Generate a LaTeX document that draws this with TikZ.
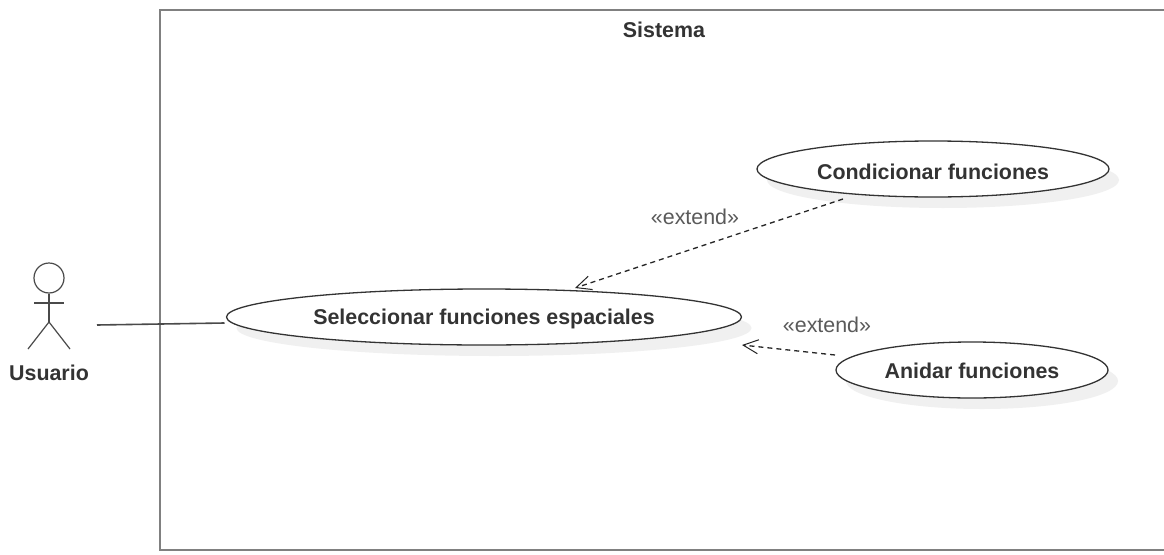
\documentclass[tikz,border=0pt]{standalone}
\usepackage{fontspec}
\setmainfont{Liberation Sans}
\usetikzlibrary{shapes.geometric,arrows.meta,shadows}
\definecolor{boxgray}{HTML}{808080}
\definecolor{linegray}{HTML}{333333}
\definecolor{stickgray}{HTML}{4A4A4A}
\definecolor{textgray}{HTML}{333333}
\definecolor{lbl}{HTML}{5A5A5A}
\tikzset{
  usecase/.style={ellipse,draw=linegray,line width=1.3pt,fill=white,inner sep=0pt,
    drop shadow={shadow xshift=10pt,shadow yshift=-11pt,fill=black!6,opacity=1}},
  uclabel/.style={font=\bfseries\fontsize{21.4}{24}\selectfont,text=textgray,inner sep=0pt},
  sysbox/.style={draw=boxgray,line width=2pt},
  stick/.style={draw=stickgray,line width=1.2pt},
  assoc/.style={draw=stickgray,line width=1.6pt},
  ext/.style={draw=black!85,line width=1.3pt,dash pattern=on 5pt off 4pt,-{Straight Barb[length=15pt,width=14pt,line width=1pt]}},
  lab/.style={font=\fontsize{21.4}{24}\selectfont,text=lbl,inner sep=0pt},
  titlelab/.style={font=\bfseries\fontsize{21.4}{24}\selectfont,text=textgray,inner sep=0pt}
}
\begin{document}
\begin{tikzpicture}[x=1pt,y=-1pt]
\useasboundingbox (0,0) rectangle (1164,554);
\fill[white] (0,0) rectangle (1164,554);
% system boundary, open at the right-hand edge of the picture
\draw[sysbox] (1164,10) -- (160,10) -- (160,550) -- (1164,550);
\node[titlelab] (sys) at (664,30) {Sistema};
% use cases
\node[usecase,minimum width=515pt,minimum height=56pt] (sel) at (484,317) {};
\node[uclabel] (sellab) at (484,319) {Seleccionar funciones espaciales};
\node[usecase,minimum width=352pt,minimum height=56pt] (cond) at (933,169) {};
\node[uclabel] (condlab) at (933,172) {Condicionar funciones};
\node[usecase,minimum width=272pt,minimum height=56pt] (ani) at (972,370) {};
\node[uclabel] (anilab) at (972,371) {Anidar funciones};
% actor
\node[circle,stick,minimum size=30pt,inner sep=0pt] (head) at (49,278) {};
\coordinate (hip) at (49,322);
\coordinate (arml) at (34,303);
\coordinate (armr) at (64,303);
\coordinate (legl) at (28,349);
\coordinate (legr) at (70,349);
\draw[stick] (head.south) -- (hip);
\draw[stick] (arml) -- (armr);
\draw[stick] (legl) -- (hip) -- (legr);
\node[titlelab] (usr) at (49,372.5) {Usuario};
% connectors
\coordinate (actorend) at (97,325);
\coordinate (selleft) at (224.5,323);
\draw[assoc] (actorend) -- (selleft);
\coordinate (condend) at (843,199);
\coordinate (seltop) at (575,288);
\draw[ext] (condend) -- (seltop);
\coordinate (aniend) at (835,355);
\coordinate (selright) at (742,345);
\draw[ext] (aniend) -- (selright);
\node[lab] (ext1) at (695,217) {«extend»};
\node[lab] (ext2) at (827,324.5) {«extend»};
\end{tikzpicture}
\end{document}
